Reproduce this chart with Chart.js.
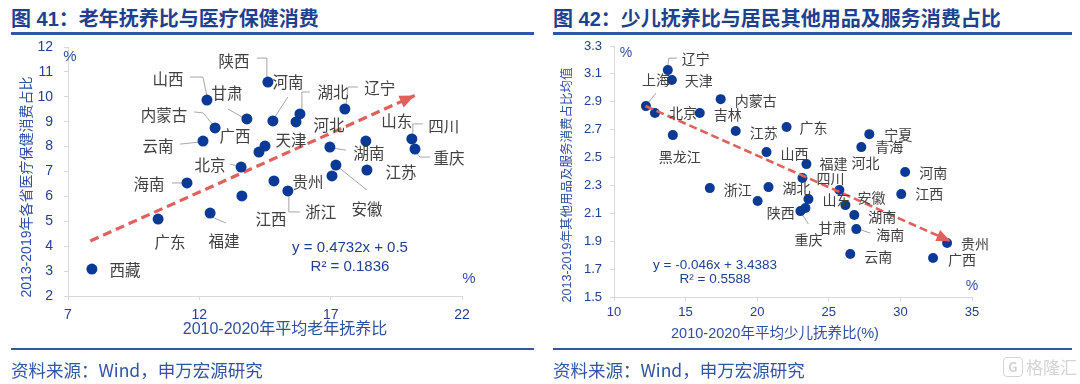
<!DOCTYPE html>
<html><head><meta charset="utf-8">
<script src="https://cdn.jsdelivr.net/npm/chart.js@4"></script>
<style>
html,body{margin:0;padding:0;background:#fff;width:1080px;height:384px;overflow:hidden;}
#wrap{position:relative;width:1080px;height:384px;}
canvas{position:absolute;top:0;}
.title{position:absolute;top:5px;font-family:"Liberation Sans","Noto Sans CJK SC",sans-serif;font-weight:bold;font-size:20px;color:#1f3f8f;white-space:nowrap;line-height:28px;}
.rule{position:absolute;background:#2f57a8;}
.foot{position:absolute;top:358px;font-family:"Noto Sans CJK SC",sans-serif;font-size:17.5px;color:#2f55a4;white-space:nowrap;line-height:24px;}
.wm{position:absolute;left:1003px;top:356px;height:22px;font-family:"Noto Sans CJK SC",sans-serif;font-size:17px;line-height:22px;color:#d4d4d4;white-space:nowrap;}
.wm span.g{display:inline-block;width:18px;height:18px;border:1.5px solid #d4d4d4;border-radius:4px;text-align:center;line-height:18px;font-size:13px;font-weight:bold;margin-right:3px;vertical-align:top;margin-top:1px;}
</style></head>
<body><div id="wrap">
<div class="title" style="left:11px">图 41：老年抚养比与医疗保健消费</div>
<div class="title" style="left:553px">图 42：少儿抚养比与居民其他用品及服务消费占比</div>
<div class="rule" style="left:11px;top:32px;width:523px;height:2.5px"></div>
<div class="rule" style="left:553px;top:32px;width:519px;height:2.5px"></div>
<canvas id="c1" width="540" height="384" style="left:0"></canvas>
<canvas id="c2" width="540" height="384" style="left:540px"></canvas>
<div class="rule" style="left:11px;top:348px;width:523px;height:2px"></div>
<div class="rule" style="left:553px;top:348px;width:519px;height:2px"></div>
<div class="foot" style="left:11px">资料来源：Wind，申万宏源研究</div>
<div class="foot" style="left:553px">资料来源：Wind，申万宏源研究</div>
<div class="wm"><span class="g">G</span>格隆汇</div>
</div>
<script>
// ===== Figure 41 data =====
const oldProvinces = ['西藏','广东','福建','江西','海南','北京','云南','内蒙古','山西','甘肃','广西','天津','陕西','河南','湖北','河北','辽宁','湖南','山东','四川','重庆','江苏','安徽','','贵州','浙江'];
const oldDependency = [7.91,10.43,12.41,13.62,11.53,13.59,12.14,12.6,12.29,13.81,14.27,14.5,14.61,14.8,15.83,15.68,17.54,16.97,18.34,20.09,20.21,18.38,17.2,17.05,14.84,15.37];
const healthShare = [3.08,5.09,5.33,6.02,6.54,7.18,8.22,8.75,9.87,9.11,7.78,8.02,10.59,9.03,9.31,8.99,9.51,7.98,8.22,8.31,7.9,7.06,7.26,6.82,6.62,6.22];
const oldTrendX = [7.85, 20.2];
const oldTrendY = [4.21, 10.05];
const oldXTickLabels = ['7','12','17','22'];
const oldYTickLabels = ['2','3','4','5','6','7','8','9','10','11','12'];

// ===== Figure 42 data =====
const youngProvinces = ['辽宁','天津','上海','北京','吉林','黑龙江','内蒙古','江苏','广东','山西','福建','四川','湖北','浙江','陕西','山东','甘肃','重庆','河北','安徽','湖南','海南','云南','宁夏','青海','河南','江西','贵州','广西'];
const youngDependency = [13.76,14.04,12.23,12.86,15.99,14.11,17.45,18.5,22.05,20.65,23.44,23.16,20.79,16.69,20.03,23.58,23.37,23.02,25.74,26.16,26.78,26.92,26.5,27.83,27.27,30.33,30.06,33.26,32.28];
const otherShare = [3.127,3.056,2.869,2.819,2.819,2.661,2.919,2.69,2.719,2.539,2.453,2.353,2.288,2.281,2.188,2.202,2.138,2.116,2.267,2.159,2.088,1.987,1.808,2.668,2.575,2.396,2.238,1.887,1.78];
const youngTrendX = [12.2, 33.5];
const youngTrendY = [2.87, 1.90];
const youngXTickLabels = ['10','15','20','25','30','35'];
const youngYTickLabels = ['1.5','1.7','1.9','2.1','2.3','2.5','2.7','2.9','3.1','3.3'];

// ===== label layout (pixel offsets from each point: [dx, dy, leader]) =====
const oldLabelLayout = {
 '西藏':[33,1], '广东':[12,23], '福建':[14,28,[[2,4],[16,10]]], '江西':[29,23],
 '海南':[-38,1,[[-15,0],[-5,0]]], '北京':[-31,-2,[[-11,-3],[-3,-1]]],
 '云南':[-45,5,[[-23,3],[-4,1]]], '内蒙古':[-51,-13,[[-21,-16],[-12,-15],[-2,-3]]],
 '山西':[-39,-21,[[-17,-23],[-4,-23],[0,-4]]], '甘肃':[-20,-26,[[-19,-10],[-5,-2]]],
 '广西':[-24,-16], '天津':[26,-6], '陕西':[-34,-21,[[-11,-24],[-1,-24],[-1,-5]]],
 '河南':[15,-39,[[15,-24],[2,-4]]], '湖北':[33,-22,[[10,-22],[2,-22],[2,-4]]],
 '河北':[33,3], '辽宁':[35,-21,[[13,-22],[3,-22],[1,-3]]], '湖南':[39,6,[[16,3],[3,1]]],
 '山东':[31,-20], '四川':[32,-13,[[11,-15],[1,-15],[1,-2]]], '重庆':[34,9,[[15,8],[5,8],[1,3]]],
 '江苏':[34,2], '安徽':[31,44,[[1,1],[31,25]]], '贵州':[34,1], '浙江':[33,21,[[1,3],[1,21],[12,21]]]
};
const youngLabelLayout = {
 '辽宁':[28,-11,[[9,-12],[1,-12],[0,-5]]], '天津':[27,1], '上海':[10,-26,[[10,-13],[2,-3]]],
 '北京':[28,0], '吉林':[28,2], '内蒙古':[35,2], '黑龙江':[7,22], '江苏':[28,2], '广东':[27,1],
 '山西':[28,2], '福建':[27,0], '河北':[26,-27], '四川':[28,1], '湖北':[28,1], '浙江':[28,2],
 '陕西':[23,12], '山东':[28,1], '安徽':[26,-7], '甘肃':[27,20], '重庆':[8,29,[[1,2],[8,13]]],
 '湖南':[28,2], '海南':[34,6,[[2,0],[14,4]]], '云南':[28,3], '宁夏':[29,1], '青海':[28,0],
 '河南':[28,1], '江西':[28,0], '贵州':[28,1], '广西':[29,2]
};

const CJK = '"Noto Sans CJK SC", "Liberation Sans", sans-serif';
const NUM = '"Liberation Sans", Arial, "Noto Sans CJK SC", sans-serif';
const AXIS_BLUE = '#22408f';

function makeScatter(id, o){
  const pts = o.xs.map((v,i)=>({x:v, y:o.ys[i]}));
  const trend = o.tx.map((v,i)=>({x:v, y:o.ty[i]}));
  const xVals = o.xTicks.map(Number), yVals = o.yTicks.map(Number);
  const decor = {
    id:'decor',
    beforeDatasetsDraw(chart){
      const ctx = chart.ctx, pm = chart.getDatasetMeta(0).data;
      ctx.save(); ctx.strokeStyle='#a6a6a6'; ctx.lineWidth=1;
      o.names.forEach((n,i)=>{ const L=o.layout[n]; if(!n||!L||!L[2]) return; const p=pm[i];
        ctx.beginPath(); L[2].forEach(([dx,dy],k)=>{ if(k) ctx.lineTo(p.x+dx,p.y+dy); else ctx.moveTo(p.x+dx,p.y+dy); }); ctx.stroke(); });
      ctx.restore();
    },
    afterDatasetsDraw(chart){
      const ctx = chart.ctx;
      const tm = chart.getDatasetMeta(1).data;
      const a = tm[tm.length-2], b = tm[tm.length-1];
      const ang = Math.atan2(b.y-a.y, b.x-a.x);
      ctx.save(); ctx.translate(b.x,b.y); ctx.rotate(ang);
      ctx.beginPath(); ctx.moveTo(0,0); ctx.lineTo(-o.arrowLen,-o.arrowHalf); ctx.lineTo(-o.arrowLen,o.arrowHalf); ctx.closePath();
      ctx.fillStyle=o.trendColor; ctx.fill(); ctx.restore();
      const pm = chart.getDatasetMeta(0).data;
      ctx.save(); ctx.font=o.labelFont; ctx.fillStyle='#404040'; ctx.textAlign='center'; ctx.textBaseline='middle';
      o.names.forEach((n,i)=>{ const L=o.layout[n]; if(!n||!L) return; const p=pm[i]; ctx.fillText(n,p.x+L[0],p.y+L[1]); });
      ctx.restore();
      o.texts.forEach(t=>{ ctx.save(); ctx.font=t.font; ctx.fillStyle=t.color; ctx.textAlign='center'; ctx.textBaseline='middle';
        ctx.translate(t.x,t.y); if(t.rot) ctx.rotate(t.rot); ctx.fillText(t.s,0,0); ctx.restore(); });
    }
  };
  const gridCfg = {drawOnChartArea:false, drawTicks:true, tickLength:4, color:'#d9d9d9', lineWidth:1};
  return new Chart(document.getElementById(id), {
    data:{datasets:[
      {type:'scatter', data:pts, pointRadius:o.r, pointHoverRadius:o.r, backgroundColor:'#0a3a96', borderWidth:0, order:o.pointOrder},
      {type:'line', data:trend, borderColor:o.trendColor, borderWidth:o.trendWidth, borderDash:o.dash, pointRadius:0, fill:false, order:o.trendOrder}
    ]},
    options:{
      responsive:false, animation:false, events:[],
      layout:{padding:{left:0, top:o.area.top, right:540-o.area.right, bottom:0}},
      plugins:{legend:{display:false}, tooltip:{enabled:false}},
      scales:{
        x:{type:'linear', min:xVals[0], max:xVals[xVals.length-1],
           afterBuildTicks:s=>{ s.ticks = xVals.map(v=>({value:v})); },
           afterFit:s=>{ s.height = 384-o.area.bottom; },
           ticks:{autoSkip:false, maxRotation:0, padding:o.xPad, color:AXIS_BLUE, font:{family:NUM,size:o.tickSize}, callback:(v,i)=>o.xTicks[i]},
           grid:gridCfg, border:{display:true,color:'#d9d9d9',width:1}},
        y:{type:'linear', min:yVals[0], max:yVals[yVals.length-1],
           afterBuildTicks:s=>{ s.ticks = yVals.map(v=>({value:v})); },
           afterFit:s=>{ s.width = o.area.left; },
           ticks:{autoSkip:false, padding:o.yPad, color:AXIS_BLUE, font:{family:NUM,size:o.tickSize}, callback:(v,i)=>o.yTicks[i]},
           grid:gridCfg, border:{display:true,color:'#d9d9d9',width:1}}
      }
    },
    plugins:[decor]
  });
}

makeScatter('c1', {
  names:oldProvinces, xs:oldDependency, ys:healthShare, tx:oldTrendX, ty:oldTrendY,
  xTicks:oldXTickLabels, yTicks:oldYTickLabels, layout:oldLabelLayout,
  area:{left:68, right:462, top:47, bottom:296}, r:5.5, tickSize:14, xPad:7, yPad:11,
  trendColor:'#e0605c', trendWidth:3.2, dash:[9,5], arrowLen:15, arrowHalf:6.5, pointOrder:1, trendOrder:2,
  labelFont:'15.5px '+CJK,
  texts:[
    {s:'2013-2019年各省医疗保健消费占比', x:27, y:187, rot:-Math.PI/2, font:'14px '+NUM, color:'#2f4f9f'},
    {s:'2010-2020年平均老年抚养比', x:285, y:330, font:'16px '+NUM, color:'#2f4f9f'},
    {s:'%', x:70, y:57, font:'15px '+NUM, color:'#2f4f9f'},
    {s:'%', x:469, y:279, font:'15px '+NUM, color:'#2f4f9f'},
    {s:'y = 0.4732x + 0.5', x:350, y:248, font:'15px '+NUM, color:'#1f3f8f'},
    {s:'R² = 0.1836', x:350, y:267, font:'15px '+NUM, color:'#1f3f8f'}
  ]
});

makeScatter('c2', {
  names:youngProvinces, xs:youngDependency, ys:otherShare, tx:youngTrendX, ty:youngTrendY,
  xTicks:youngXTickLabels, yTicks:youngYTickLabels, layout:youngLabelLayout,
  area:{left:74, right:432, top:46, bottom:297}, r:5, tickSize:13, xPad:4, yPad:8,
  trendColor:'#e0605c', trendWidth:2.6, dash:[8,4], arrowLen:14, arrowHalf:6, pointOrder:2, trendOrder:1,
  labelFont:'14px '+CJK,
  texts:[
    {s:'2013-2019年其他用品及服务消费占比均值', x:28, y:185, rot:-Math.PI/2, font:'12.5px '+NUM, color:'#2f4f9f'},
    {s:'2010-2020年平均少儿抚养比(%)', x:235, y:334, font:'14.5px '+NUM, color:'#2f4f9f'},
    {s:'%', x:86, y:53, font:'14px '+NUM, color:'#2f4f9f'},
    {s:'%', x:432, y:286, font:'14px '+NUM, color:'#2f4f9f'},
    {s:'y = -0.046x + 3.4383', x:175, y:265, font:'13.5px '+NUM, color:'#1f3f8f'},
    {s:'R² = 0.5588', x:175, y:279, font:'13.5px '+NUM, color:'#1f3f8f'}
  ]
});
</script>
</body></html>
